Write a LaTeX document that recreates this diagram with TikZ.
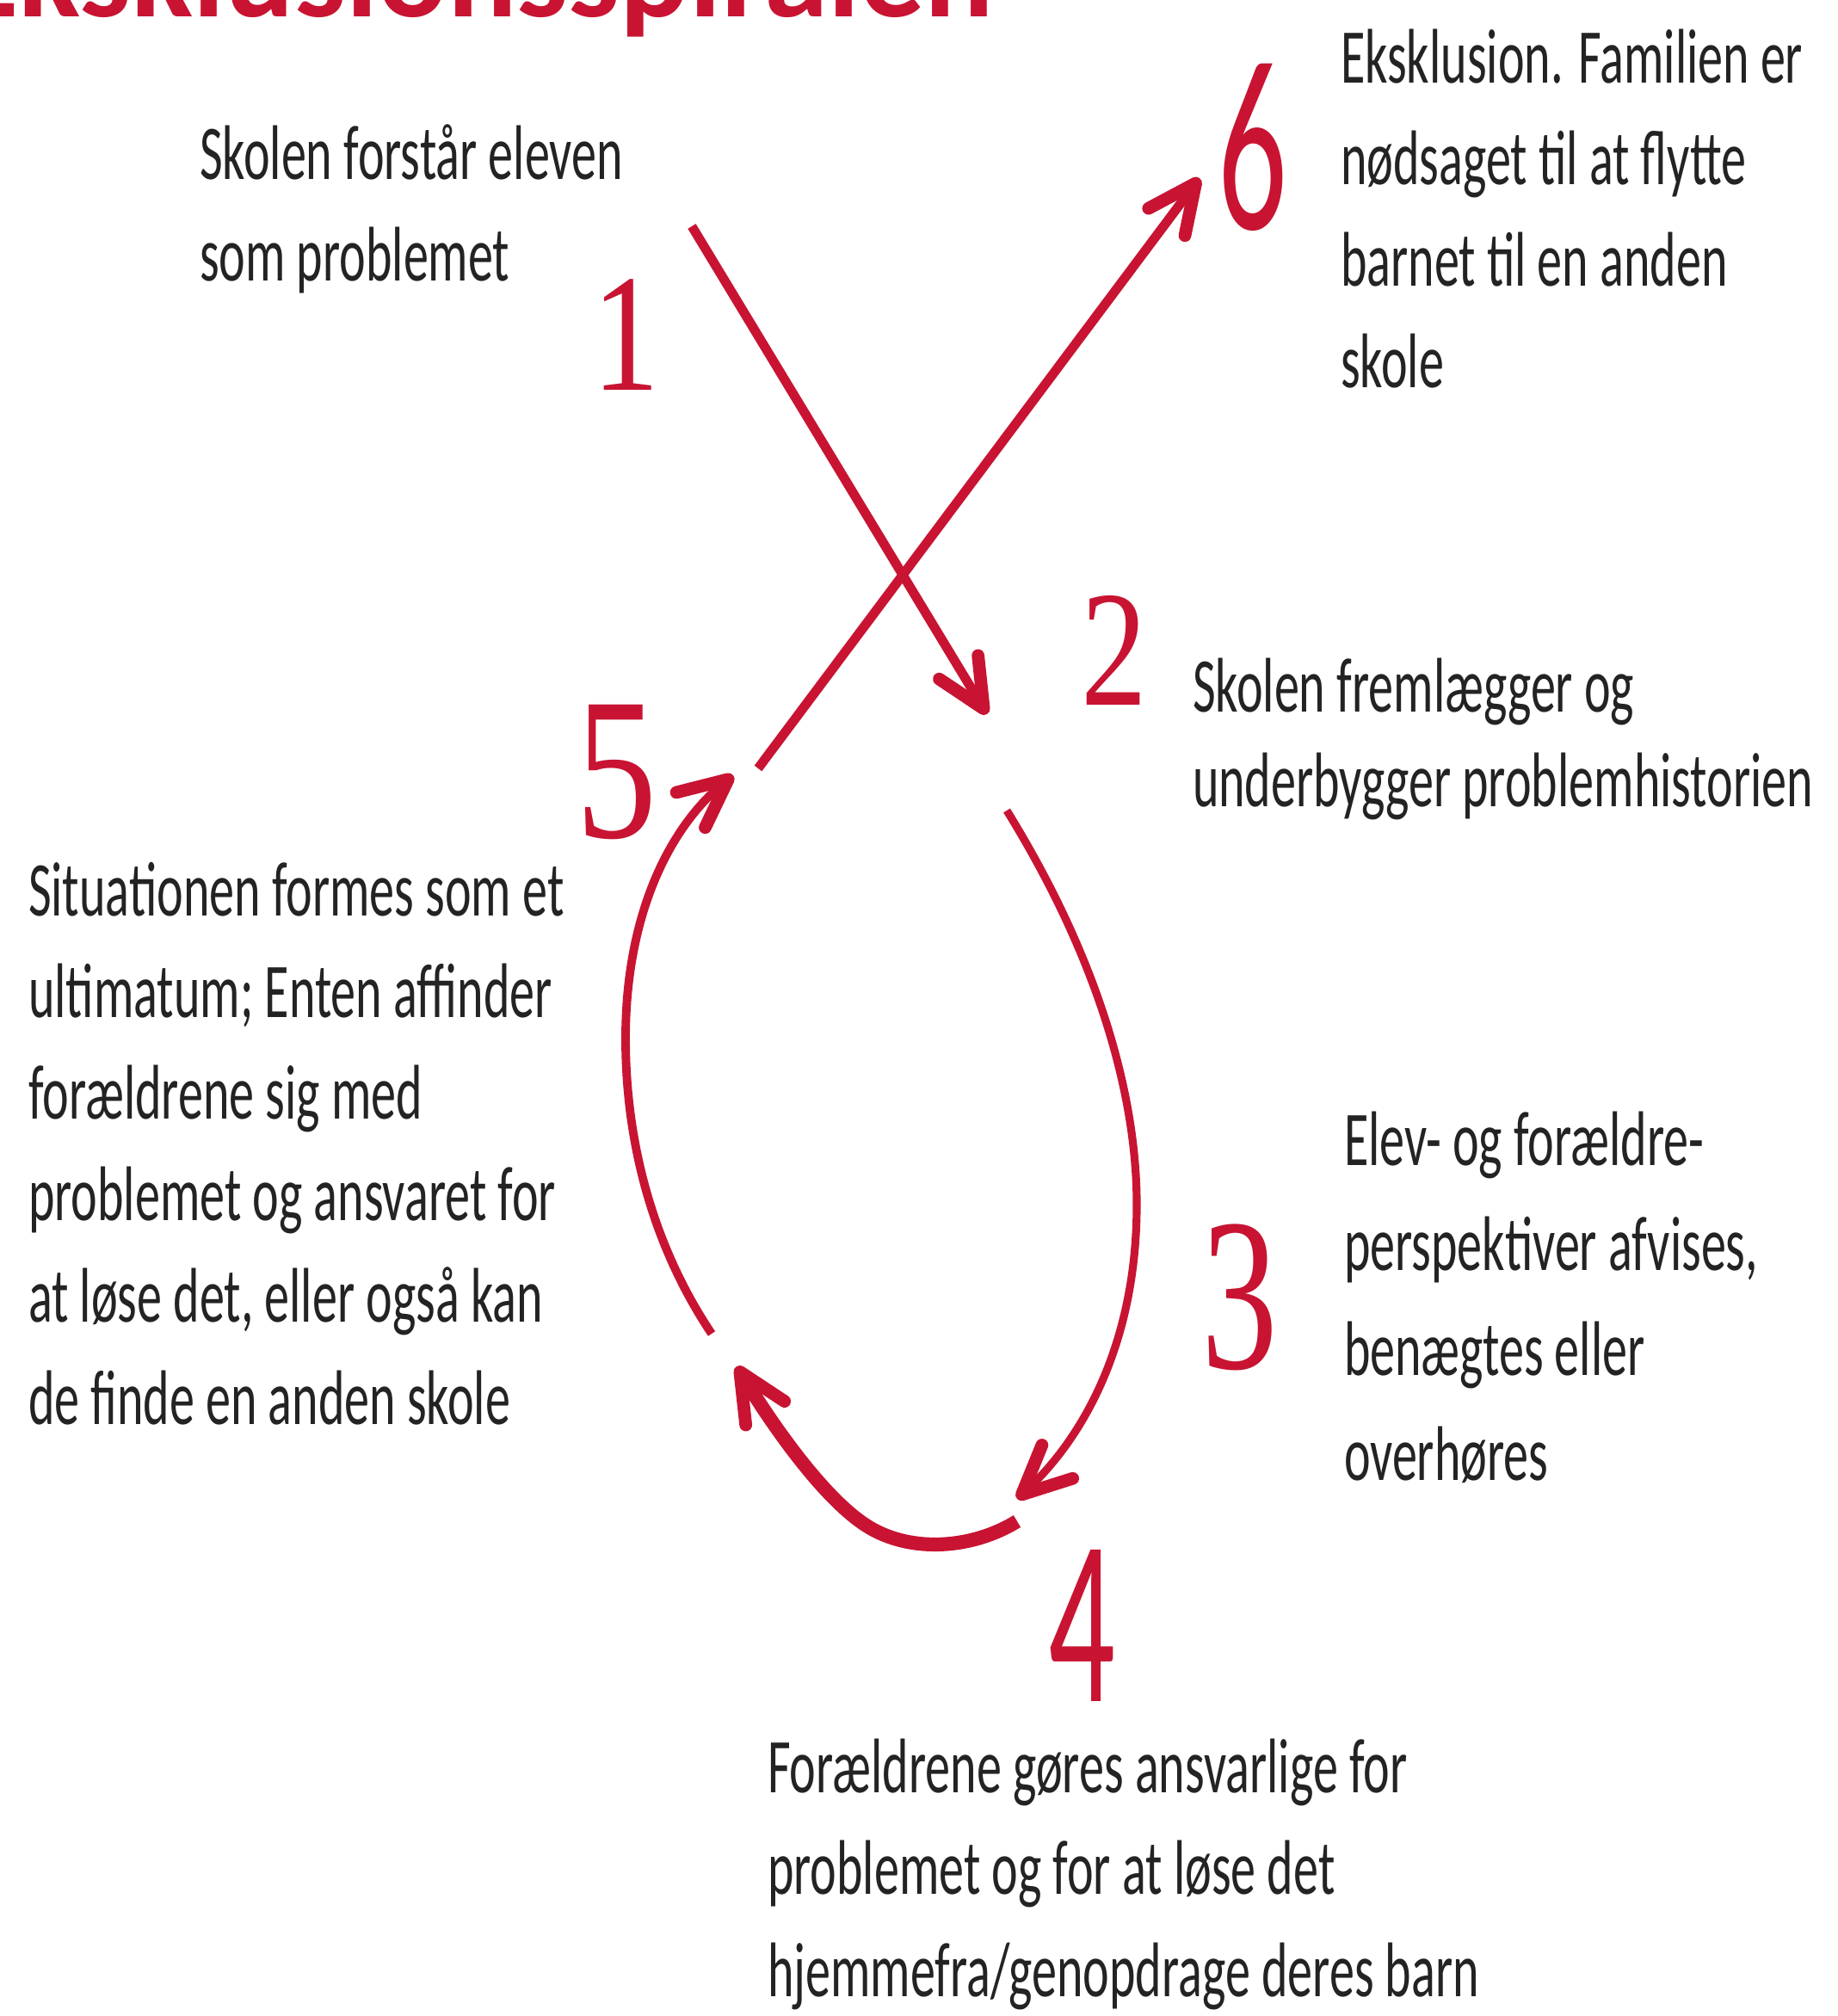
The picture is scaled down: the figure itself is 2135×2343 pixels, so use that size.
\documentclass[tikz,border=0pt]{standalone}
\usepackage{fontspec}
\setmainfont{Carlito}
\newfontfamily\bodyfont{Carlito}[FakeStretch=0.645]
\newfontfamily\serifnum{Liberation Serif}[FakeStretch=0.8]
\newfontfamily\serifnumc{Liberation Serif}[FakeStretch=0.7]
\newfontfamily\sansnum{Carlito}[FakeStretch=0.56]
\usetikzlibrary{arrows.meta}
\definecolor{spiral}{RGB}{200,20,50}
\definecolor{ink}{RGB}{35,35,35}
\begin{document}
\begin{tikzpicture}[x=0.01cm,y=-0.01cm,
  desc/.style={anchor=base west, inner sep=0pt, outer sep=0pt, align=left, text=ink,
    font=\bodyfont\fontsize{25.6pt}{33.6pt}\selectfont},
  numlabel/.style={anchor=base, inner sep=0pt, outer sep=0pt, text=spiral},
  arr/.style={draw=spiral, line width=3.1pt,
    -{Straight Barb[length=16pt,width=15pt,line width=4.2pt,round]}},
]
\path[use as bounding box, fill=white] (0,0) rectangle (2135,2343);
\clip (0,0) rectangle (2135,2343);

% title (cut off at the top edge)
\node[anchor=base west, inner sep=0pt, text=spiral,
  font=\bfseries\fontsize{42.7pt}{50pt}\selectfont] (title) at (-52,20) {Eksklusionsspiralen};

% descriptions (anchored at the baseline of their last line)
\node[desc] (t1) at (232,327) {Skolen forstår eleven\\som problemet};
\node[desc] (t6) at (1558,451) {Eksklusion. Familien er\\nødsaget til at flytte\\barnet til en anden\\skole};
\node[desc, font=\bodyfont\fontsize{25.6pt}{31.0pt}\selectfont] (t2) at (1386,937) {Skolen fremlægger og\\underbygger problemhistorien};
\node[desc] (t5) at (33,1655) {Situationen formes som et\\ultimatum; Enten affinder\\forældrene sig med\\problemet og ansvaret for\\at løse det, eller også kan\\de finde en anden skole};
\node[desc, font=\bodyfont\fontsize{25.6pt}{34.6pt}\selectfont] (t3) at (1562,1720) {Elev- og forældre-\\perspektiver afvises,\\benægtes eller\\overhøres};
\node[desc] (t4) at (892,2320) {Forældrene gøres ansvarlige for\\problemet og for at løse det\\hjemmefra/genopdrage deres barn};

% numbers
\node[numlabel, font=\serifnum\fontsize{55.5pt}{60pt}\selectfont] (n1) at (728,454) {1};
\node[numlabel, font=\serifnum\fontsize{54.6pt}{60pt}\selectfont] (n2) at (1295,819) {2};
\node[numlabel, font=\serifnumc\fontsize{72pt}{76pt}\selectfont] (n3) at (1441,1590) {3};
\node[numlabel, font=\sansnum\fontsize{78pt}{80pt}\selectfont] (n4) at (1257,1977) {4};
\node[numlabel, font=\serifnum\fontsize{67pt}{70pt}\selectfont] (n5) at (717,973) {5};
\node[numlabel, font=\sansnum\fontsize{81pt}{84pt}\selectfont] (n6) at (1456,267) {6};

% connector end points
\coordinate (a1s) at (804,263);
\coordinate (a1e) at (1147,830);
\coordinate (a2s) at (1170,942);
\coordinate (a2m) at (1321,1404);
\coordinate (a2e) at (1182,1742);
\coordinate (a3s) at (1182,1768);
\coordinate (a3m) at (1010,1775);
\coordinate (a3e) at (856,1588);
\coordinate (a4s) at (827,1550);
\coordinate (a4m) at (727,1207);
\coordinate (a4e) at (852,901);
\coordinate (a5s) at (881,893);
\coordinate (a5e) at (1394,207);

% connectors
\draw[arr] (a1s) -- (a1e);
\draw[arr, line width=2.6pt] (a2s) .. controls (1280,1120) and (1322,1280) .. (a2m)
  .. controls (1320,1560) and (1260,1670) .. (a2e);
\draw[arr, line width=4.6pt] (a3s) .. controls (1130,1800) and (1060,1805) .. (a3m)
  .. controls (960,1745) and (900,1660) .. (a3e);
\draw[arr, line width=2.8pt] (a4s) .. controls (760,1450) and (727,1330) .. (a4m)
  .. controls (727,1060) and (780,960) .. (a4e);
\draw[arr] (a5s) -- (a5e);
\end{tikzpicture}
\end{document}
